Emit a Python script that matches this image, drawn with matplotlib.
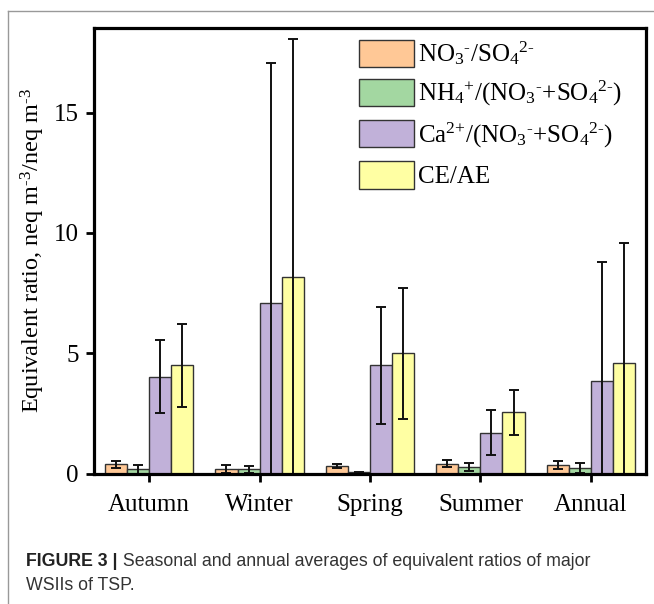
import matplotlib
matplotlib.use("Agg")
import matplotlib.pyplot as plt
import numpy as np
from matplotlib.lines import Line2D

# ---- data ----
seasons = ["Autumn", "Winter", "Spring", "Summer", "Annual"]
series_labels = [
    r"NO$_3$$^{\text{-}}$/SO$_4$$^{2\text{-}}$",
    r"NH$_4$$^{\text{+}}$/(NO$_3$$^{\text{-}}$+SO$_4$$^{2\text{-}}$)",
    r"Ca$^{2\text{+}}$/(NO$_3$$^{\text{-}}$+SO$_4$$^{2\text{-}}$)",
    "CE/AE",
]
no3_so4 = [0.38, 0.19, 0.31, 0.41, 0.34]
no3_so4_sd = [0.15, 0.18, 0.10, 0.15, 0.17]
nh4_ratio = [0.17, 0.17, 0.05, 0.27, 0.23]
nh4_ratio_sd = [0.17, 0.15, 0.03, 0.15, 0.22]
ca_ratio = [4.02, 7.09, 4.49, 1.69, 3.85]
ca_ratio_sd = [1.51, 9.97, 2.43, 0.93, 4.95]
ce_ae = [4.49, 8.15, 4.99, 2.55, 4.60]
ce_ae_sd = [1.73, 9.92, 2.74, 0.93, 5.00]
caption_bold = "FIGURE 3 |"
caption_text = " Seasonal and annual averages of equivalent ratios of major"
caption_line2 = "WSIIs of TSP."
# ----------------------------------

colors = ["#FFC896", "#A3D7A1", "#C1B1D9", "#FFFFA3"]
means = [no3_so4, nh4_ratio, ca_ratio, ce_ae]
sds = [no3_so4_sd, nh4_ratio_sd, ca_ratio_sd, ce_ae_sd]

plt.rcParams["font.family"] = ["Liberation Serif", "DejaVu Serif"]
plt.rcParams["mathtext.fontset"] = "custom"
plt.rcParams["mathtext.rm"] = "Liberation Serif"
plt.rcParams["mathtext.it"] = "Liberation Serif:italic"
plt.rcParams["mathtext.bf"] = "Liberation Serif:bold"

fig = plt.figure(figsize=(6.54, 6.04), dpi=100)
ax = fig.add_axes([0.1437, 0.216, 0.8441, 0.737])

x = np.arange(1, len(seasons) + 1)
width = 0.2
offsets = [-0.3, -0.1, 0.1, 0.3]

handles = []
for i in range(4):
    b = ax.bar(x + offsets[i], means[i], width, color=colors[i],
               edgecolor="#333333", linewidth=1.0, label=series_labels[i])
    ax.errorbar(x + offsets[i], means[i], yerr=sds[i], fmt="none",
                ecolor="#111111", elinewidth=1.4, capsize=3.5, capthick=1.4)
    handles.append(b)

ax.set_xlim(0.5, 5.5)
ax.set_ylim(0, 18.5)
ax.set_xticks(x)
ax.set_xticklabels(seasons)
ax.set_yticks([0, 5, 10, 15])
ax.tick_params(axis="both", labelsize=18, width=2, length=6, direction="out", pad=5)
ax.tick_params(axis="x", pad=9)
for s in ax.spines.values():
    s.set_linewidth(2.3)

ax.set_ylabel(r"Equivalent ratio, neq m$^{\text{-}3}$/neq m$^{\text{-}3}$", fontsize=17.5, labelpad=5)

ax.legend(handles=handles, loc="upper left", bbox_to_anchor=(0.462, 0.998),
          frameon=False, fontsize=18, handlelength=2.2, handleheight=1.3,
          handletextpad=0.15, labelspacing=0.47, borderaxespad=0)

# caption below the chart
cap_font = ["Liberation Sans Narrow", "Liberation Sans"]
t = fig.text(0.04, 1 - 562 / 604, caption_bold, fontsize=12.8, fontweight="bold",
             family=cap_font, va="center", color="#222222")
fig.canvas.draw()
bb = t.get_window_extent()
fig.text(bb.x1 / fig.bbox.width, 1 - 562 / 604, caption_text, fontsize=12.8,
         family=cap_font, va="center", color="#333333")
fig.text(0.04, 1 - 586 / 604, caption_line2, fontsize=12.8,
         family=cap_font, va="center", color="#333333")

# thin frame lines at top and left
fig.add_artist(Line2D([8 / 654, 1], [1 - 11 / 604, 1 - 11 / 604], color="#999999", linewidth=1))
fig.add_artist(Line2D([8 / 654, 8 / 654], [0, 1 - 11 / 604], color="#999999", linewidth=1))

fig.savefig("out.png", dpi=100)
